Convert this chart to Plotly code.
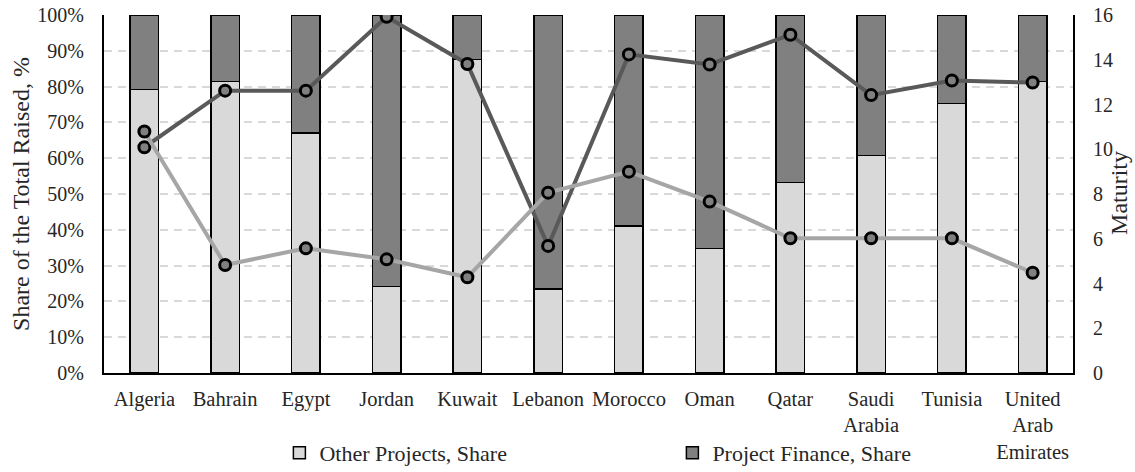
import plotly.graph_objects as go

countries = ["Algeria", "Bahrain", "Egypt", "Jordan", "Kuwait", "Lebanon", "Morocco",
             "Oman", "Qatar", "Saudi<br>Arabia", "Tunisia", "United<br>Arab<br>Emirates"]
other_share = [79.2, 81.4, 67.0, 24.1, 87.6, 23.4, 41.1, 34.8, 53.2, 60.8, 75.3, 81.4]
pf_share = [round(100 - v, 1) for v in other_share]
other_maturity = [10.79, 4.83, 5.57, 5.08, 4.28, 8.06, 9.0, 7.66, 6.02, 6.02, 6.02, 4.48]
pf_maturity = [10.09, 12.62, 12.62, 15.92, 13.81, 5.68, 14.24, 13.79, 15.12, 12.42, 13.07, 12.98]

FONT = "Liberation Serif"
TXT = "#262626"

fig = go.Figure()
fig.add_trace(go.Bar(x=countries, y=other_share, name="Other Projects, Share",
                     marker=dict(color="#d9d9d9", line=dict(color="black", width=1.5)),
                     width=0.35))
fig.add_trace(go.Bar(x=countries, y=pf_share, name="Project Finance, Share",
                     marker=dict(color="#808080", line=dict(color="black", width=1.5)),
                     width=0.35))
fig.add_trace(go.Scatter(x=countries, y=pf_maturity, name="Project Finance, Maturity",
                         yaxis="y2", mode="lines+markers", showlegend=False,
                         line=dict(color="#595959", width=4),
                         marker=dict(size=11, color="#808080", line=dict(color="black", width=3))))
fig.add_trace(go.Scatter(x=countries, y=other_maturity, name="Other Projects, Maturity",
                         yaxis="y2", mode="lines+markers", showlegend=False,
                         line=dict(color="#a6a6a6", width=4),
                         marker=dict(size=11, color="#808080", line=dict(color="black", width=3))))

fig.update_layout(
    width=1135, height=472,
    margin=dict(l=104, r=62, t=15, b=99, autoexpand=False),
    paper_bgcolor="white", plot_bgcolor="white",
    barmode="stack", bargap=0.65,
    font=dict(family=FONT, size=20, color=TXT),
    xaxis=dict(showline=True, linecolor="black", linewidth=2, ticks="",
               range=[-0.5, len(countries) - 0.5],
               tickfont=dict(size=20.5), showgrid=False, automargin=False,
               ticklabelstandoff=6, ticklabeloverflow="allow"),
    yaxis=dict(range=[0, 100], dtick=10, ticksuffix="%", showline=True, linecolor="black",
               linewidth=2, showgrid=True, gridcolor="#d9d9d9", griddash="8px,6px", gridwidth=1.5,
               zeroline=False, automargin=False, ticklabelstandoff=14, ticklabeloverflow="allow",
               title=dict(text="Share of the Total Raised, %", font=dict(size=24), standoff=1),
               tickfont=dict(size=20)),
    yaxis2=dict(range=[0, 16], dtick=2, overlaying="y", side="right", showline=True,
                linecolor="black", linewidth=2, showgrid=False, zeroline=False,
                automargin=False, ticklabelstandoff=14, ticklabeloverflow="allow",
                tickfont=dict(size=20)),
    legend=dict(orientation="h", x=0.181, xanchor="left", y=-0.223, yanchor="middle",
                entrywidth=348, font=dict(size=22), traceorder="normal",
                bgcolor="rgba(0,0,0,0)"),
)
fig.add_annotation(text="Maturity", xref="paper", yref="paper", x=1.0475, y=0.503,
                   textangle=-90, showarrow=False, font=dict(size=24, family=FONT, color=TXT),
                   xanchor="center", yanchor="middle")

# remove the page's default 8px body margin so the figure fills the window exactly
fig.write_html("out.html", config={"displayModeBar": False},
               post_script="document.body.style.margin='0px';")
